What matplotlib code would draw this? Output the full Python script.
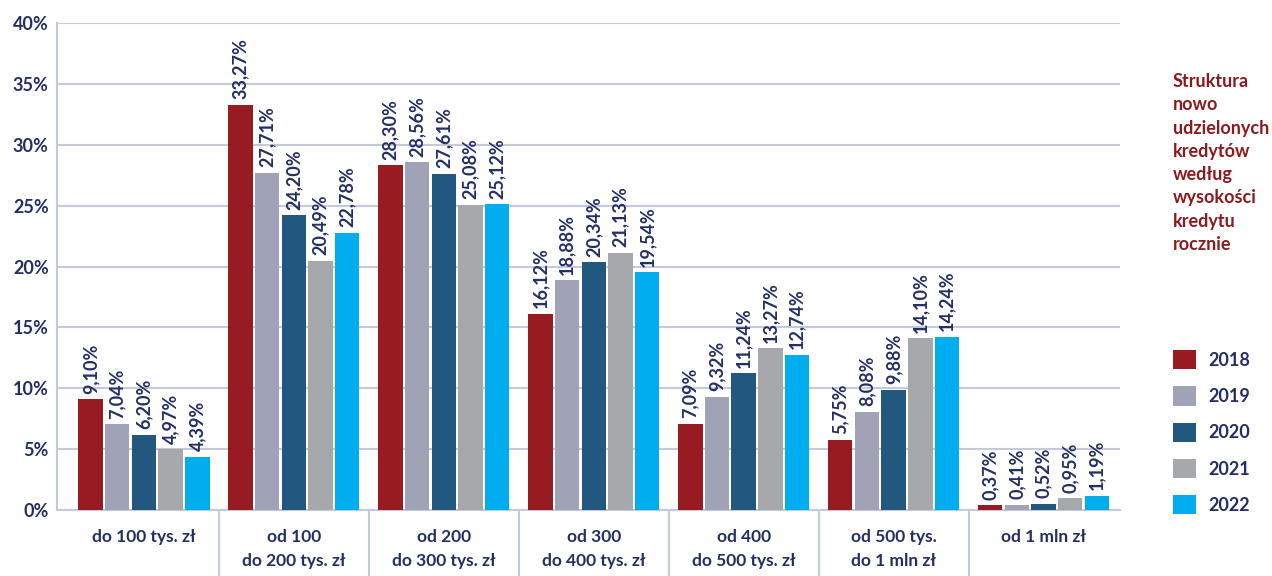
import matplotlib
matplotlib.use("Agg")
import matplotlib.pyplot as plt
import numpy as np

kategorie = ["do 100 tys. zł", "od 100\ndo 200 tys. zł", "od 200\ndo 300 tys. zł",
             "od 300\ndo 400 tys. zł", "od 400\ndo 500 tys. zł", "od 500 tys.\ndo 1 mln zł",
             "od 1 mln zł"]
lata = ["2018", "2019", "2020", "2021", "2022"]
v2018 = [9.10, 33.27, 28.30, 16.12, 7.09, 5.75, 0.37]
v2019 = [7.04, 27.71, 28.56, 18.88, 9.32, 8.08, 0.41]
v2020 = [6.20, 24.20, 27.61, 20.34, 11.24, 9.88, 0.52]
v2021 = [4.97, 20.49, 25.08, 21.13, 13.27, 14.10, 0.95]
v2022 = [4.39, 22.78, 25.12, 19.54, 12.74, 14.24, 1.19]
serie = [v2018, v2019, v2020, v2021, v2022]
kolory = ["#981b22", "#a0a3b6", "#22577f", "#a7a8ab", "#00aeef"]

tekst = "#232f64"
siatka = "#c3cadb"
plt.rcParams['font.family'] = ['Lato', 'DejaVu Sans']

fig = plt.figure(figsize=(12.72, 5.76), dpi=100)
ax = fig.add_axes([57/1272, 66/576, 1063/1272, 487/576])

x = np.arange(len(kategorie))
szer = 0.163
krok = 0.178
for i, (vals, kol) in enumerate(zip(serie, kolory)):
    pos = x + (i - 2) * krok
    ax.bar(pos, vals, width=szer, color=kol, zorder=3, label=lata[i])
    for px, v in zip(pos, vals):
        ax.annotate(f"{v:.2f}%".replace(".", ","), (px, v), xytext=(0, 4),
                    textcoords="offset points", rotation=90, ha="center", va="bottom",
                    fontsize=13, color=tekst, fontweight="bold")

ax.set_ylim(0, 40)
ax.set_xlim(-0.58, 6.51)
ax.set_yticks(range(0, 41, 5))
ax.set_yticklabels([f"{t}%" for t in range(0, 41, 5)], fontsize=13, color=tekst,
                   fontweight="bold")
ax.yaxis.grid(True, color=siatka, linewidth=1.5, zorder=0)
ax.tick_params(axis="y", length=0, pad=6)

ax.set_xticks(x)
ax.set_xticklabels(kategorie, fontsize=12.5, color=tekst, fontweight="bold",
                   linespacing=1.55, va="top")
ax.set_xticks(np.arange(0.5, 6, 1), minor=True)
ax.tick_params(axis="x", which="major", length=0, pad=14)
ax.tick_params(axis="x", which="minor", length=50, width=1.5, color=siatka)

for s in ["top", "right"]:
    ax.spines[s].set_visible(False)
ax.spines["left"].set_color(siatka)
ax.spines["left"].set_linewidth(1.5)
ax.spines["bottom"].set_color(siatka)
ax.spines["bottom"].set_linewidth(1.5)

fig.text(1173/1272, 1 - 73/576,
         "Struktura\nnowo\nudzielonych\nkredytów\nwedług\nwysokości\nkredytu\nrocznie",
         color="#8b1a1f", fontsize=13, va="top", ha="left", linespacing=1.45,
         fontweight="bold")

leg = fig.legend(loc="upper left", bbox_to_anchor=(1157/1272, 1 - 334/576), frameon=False,
                 handlelength=1.25, handleheight=1.25, labelspacing=0.95, handletextpad=0.7,
                 fontsize=13)
for t in leg.get_texts():
    t.set_color(tekst)
    t.set_fontweight("bold")

fig.savefig("out.png", dpi=100)
